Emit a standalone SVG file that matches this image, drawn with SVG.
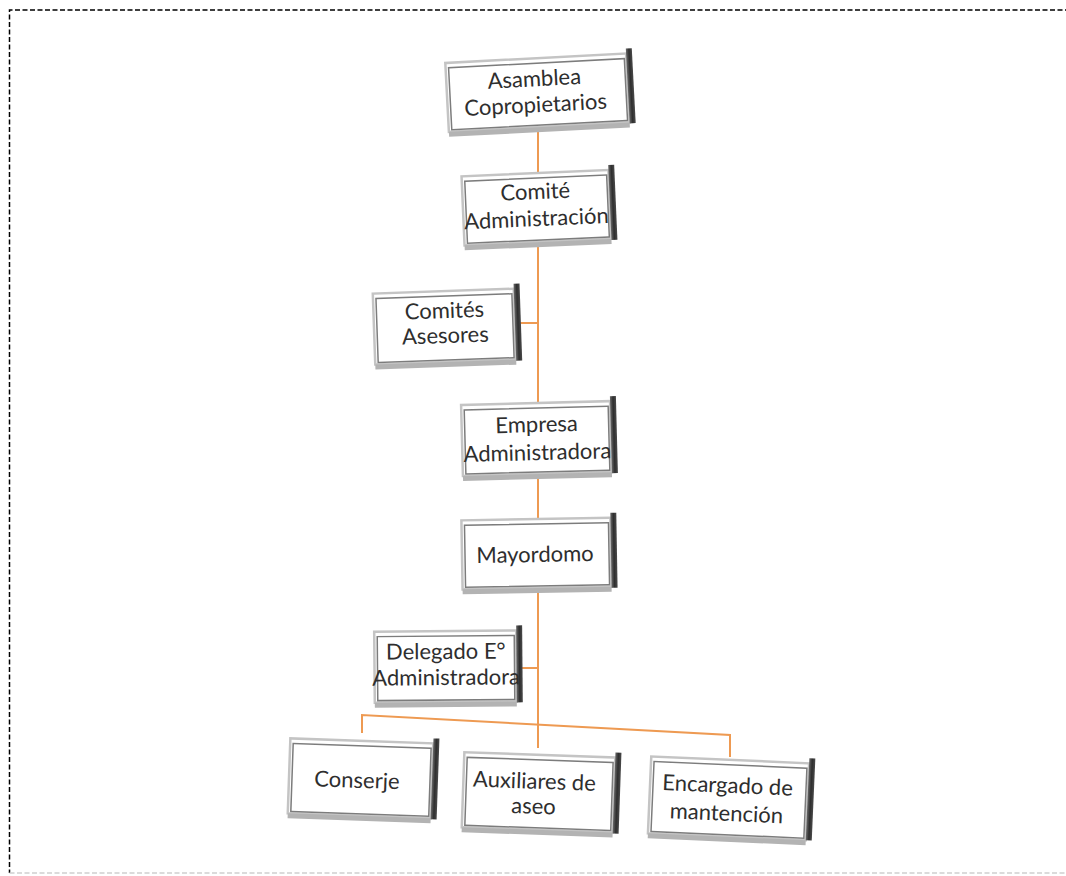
<svg xmlns="http://www.w3.org/2000/svg" width="1066" height="876" viewBox="0 0 1066 876">
<style>
.frame{fill:none;stroke:#000;stroke-width:1.5;stroke-dasharray:5 2.5}
.link{fill:none;stroke:#EE9A52;stroke-width:2}
.face{fill:#fff;stroke:#c4c4c4;stroke-width:2.5}
.inner{fill:none;stroke:#7c7c7c;stroke-width:1.5}
.band{fill:#b3b3b3}
.bar{fill:url(#barg)}
.t{font-family:Lato,"Open Sans",sans-serif;font-size:22px;fill:#2e2e2e;text-anchor:middle}
</style>
<defs>
<linearGradient id="barg" x1="0" y1="0" x2="1" y2="0">
<stop offset="0" stop-color="#6a6a6a"/>
<stop offset="0.5" stop-color="#2e2e2e"/>
<stop offset="1" stop-color="#4a4a4a"/>
</linearGradient>
</defs>
<rect width="1066" height="876" fill="#fff"/>
<path class="frame" d="M1070,10 H9.5 V873"/>
<path class="frame" style="stroke:#cfcfcf" d="M9.5,873 H1070"/>
<g id="connectors">
<path class="link" d="M538,130 V748"/>
<path class="link" d="M538,323 H520"/>
<path class="link" d="M538,668 H521"/>
<path class="link" d="M362,733 V715 L730,735 V757"/>
</g>
<g id="asamblea" transform="translate(541,93) rotate(-3)">
<rect class="face" x="-94" y="-35" width="181" height="69"/>
<rect class="inner" x="-91" y="-30" width="176" height="62"/>
<rect class="band" x="-94" y="34" width="181" height="5"/>
<rect class="bar" x="87" y="-40" width="6" height="75"/>
<text class="t" x="-6" y="-7">Asamblea</text>
<text class="t" x="-6" y="19">Copropietarios</text>
</g>
<g id="comite" transform="translate(540,208) rotate(-2.5)">
<rect class="face" x="-77" y="-35" width="147" height="69"/>
<rect class="inner" x="-74" y="-30" width="142" height="62"/>
<rect class="band" x="-77" y="34" width="147" height="5"/>
<rect class="bar" x="70" y="-40" width="6" height="75"/>
<text class="t" x="-4" y="-9">Comité</text>
<text class="t" x="-4" y="18">Administración</text>
</g>
<g id="asesores" transform="translate(448,327) rotate(-2)">
<rect class="face" x="-74" y="-36" width="141" height="71"/>
<rect class="inner" x="-71" y="-31" width="136" height="64"/>
<rect class="band" x="-74" y="35" width="141" height="5"/>
<rect class="bar" x="67" y="-41" width="6" height="77"/>
<text class="t" x="-3" y="-9">Comités</text>
<text class="t" x="-3" y="16">Asesores</text>
</g>
<g id="empresa" transform="translate(540,439) rotate(-1.5)">
<rect class="face" x="-78" y="-36" width="149" height="71"/>
<rect class="inner" x="-75" y="-31" width="144" height="64"/>
<rect class="band" x="-78" y="35" width="149" height="5"/>
<rect class="bar" x="71" y="-41" width="6" height="77"/>
<text class="t" x="-3" y="-7">Empresa</text>
<text class="t" x="-3" y="21">Administradora</text>
</g>
<g id="mayordomo" transform="translate(540,554) rotate(-1)">
<rect class="face" x="-78" y="-35" width="149" height="69"/>
<rect class="inner" x="-75" y="-30" width="144" height="62"/>
<rect class="band" x="-78" y="34" width="149" height="5"/>
<rect class="bar" x="71" y="-40" width="6" height="75"/>
<text class="t" x="-5" y="8">Mayordomo</text>
</g>
<g id="delegado" transform="translate(449,667) rotate(-0.5)">
<rect class="face" x="-74.5" y="-36" width="142" height="71"/>
<rect class="inner" x="-71.5" y="-31" width="137" height="64"/>
<rect class="band" x="-74.5" y="35" width="142" height="5"/>
<rect class="bar" x="67.5" y="-41" width="6" height="77"/>
<text class="t" x="-3" y="-8">Delegado E°</text>
<text class="t" x="-3" y="18">Administradora</text>
</g>
<g id="conserje" transform="translate(364,779) rotate(2)">
<rect class="face" x="-75" y="-38" width="143" height="75"/>
<rect class="inner" x="-72" y="-33" width="138" height="68"/>
<rect class="band" x="-75" y="37" width="143" height="5"/>
<rect class="bar" x="68" y="-43" width="6" height="81"/>
<text class="t" x="-7" y="9">Conserje</text>
</g>
<g id="auxiliares" transform="translate(542,793) rotate(2)">
<rect class="face" x="-79" y="-38" width="151" height="75"/>
<rect class="inner" x="-76" y="-33" width="146" height="68"/>
<rect class="band" x="-79" y="37" width="151" height="5"/>
<rect class="bar" x="72" y="-43" width="6" height="81"/>
<text class="t" x="-8" y="-4">Auxiliares de</text>
<text class="t" x="-8" y="21">aseo</text>
</g>
<g id="encargado" transform="translate(732,799) rotate(2.5)">
<rect class="face" x="-82.5" y="-39" width="158" height="77"/>
<rect class="inner" x="-79.5" y="-34" width="153" height="70"/>
<rect class="band" x="-82.5" y="38" width="158" height="5"/>
<rect class="bar" x="75.5" y="-44" width="6" height="82"/>
<text class="t" x="-5" y="-6">Encargado de</text>
<text class="t" x="-5" y="22">mantención</text>
</g>
</svg>
